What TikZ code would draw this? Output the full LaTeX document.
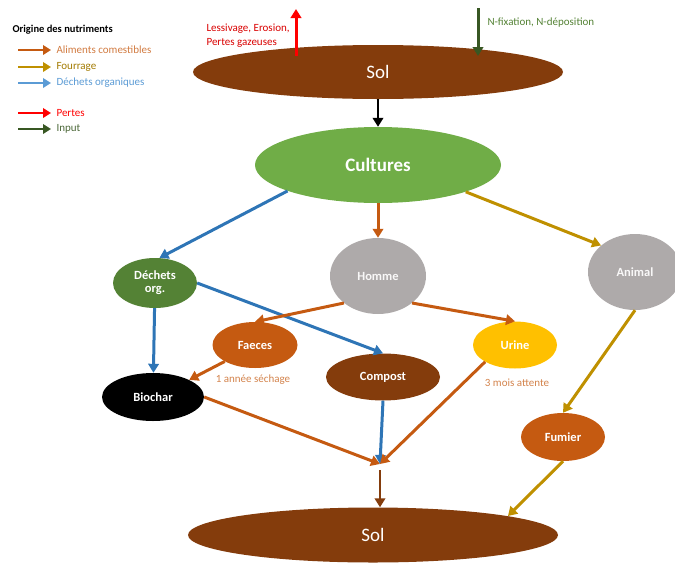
\documentclass[tikz,border=0pt]{standalone}
\usepackage{fontspec}
\setmainfont{Carlito}
\usetikzlibrary{arrows.meta,shapes.geometric}

\definecolor{brun}{HTML}{843C0C}
\definecolor{orangebrun}{HTML}{C55A11}
\definecolor{dore}{HTML}{BF9000}
\definecolor{bleu}{HTML}{2E75B6}
\definecolor{bleuclair}{HTML}{5B9BD5}
\definecolor{vertclair}{HTML}{70AD47}
\definecolor{vertfonce}{HTML}{548235}
\definecolor{vertinput}{HTML}{385723}
\definecolor{gris}{HTML}{AEAAAA}
\definecolor{jaune}{HTML}{FFC000}
\definecolor{rouge}{HTML}{FF0000}

\begin{document}
\begin{tikzpicture}[x=1pt,y=-1pt,
    bulle/.style={ellipse,inner sep=0pt,align=center,text=white,
      font=\bfseries\fontsize{12.5}{13}\selectfont},
    fleche/.style={line width=3pt,-{Triangle[length=9pt,width=10.5pt]}},
    legende/.style={anchor=west,font=\fontsize{11}{14}\selectfont}]
    \useasboundingbox (0,0) rectangle (675,563);

    % legende
    \node[anchor=west,font=\bfseries\fontsize{10.5}{12}\selectfont] (titre) at (9,30) {Origine des nutriments};
    \foreach \y/\c/\tc/\t [count=\i] in {50/orangebrun/orangebrun!80/Aliments comestibles,
        67/dore/dore!85!black/Fourrage, 83/bleuclair/bleuclair/Déchets organiques,
        113/rouge/rouge/Pertes, 129/vertinput/vertinput!90/Input} {
      \coordinate (lg\i a) at (18,\y);
      \coordinate (lg\i b) at (51,\y);
      \draw[fleche,\c,line width=2.8pt,-{Triangle[length=8pt,width=9.5pt]}] (lg\i a) -- (lg\i b);
      \node[legende,text=\tc] (lgt\i) at (53,\y) {\t};
    }

    % ellipses
    \node[bulle,fill=brun,minimum width=370pt,minimum height=54pt,
      font=\fontsize{19}{20}\selectfont] (solhaut) at (378,72) {Sol};
    \node[bulle,fill=vertclair,minimum width=246pt,minimum height=76pt,
      font=\bfseries\fontsize{19}{20}\selectfont] (cultures) at (378,165) {Cultures};
    \node[bulle,fill=vertfonce,minimum width=84pt,minimum height=50pt] (dechets) at (155,283) {Déchets\\org.};
    \node[bulle,fill=gris,minimum width=96pt,minimum height=76pt,text=white!92!gris] (homme) at (378,276) {Homme};
    \node[bulle,fill=gris,minimum width=94pt,minimum height=76pt,text=white!92!gris] (animal) at (635,272) {Animal};
    \node[bulle,fill=orangebrun,minimum width=85pt,minimum height=46pt] (faeces) at (255,345) {Faeces};
    \node[bulle,fill=brun,minimum width=114pt,minimum height=47pt] (compost) at (383,377) {Compost};
    \node[bulle,fill=jaune,minimum width=84pt,minimum height=47pt] (urine) at (515,345) {Urine};
    \node[bulle,fill=black,minimum width=102pt,minimum height=48pt] (biochar) at (153,397) {Biochar};
    \node[bulle,fill=orangebrun,minimum width=84pt,minimum height=48pt] (fumier) at (563,437) {Fumier};
    \node[bulle,fill=brun,minimum width=370pt,minimum height=55pt,
      font=\fontsize{19}{20}\selectfont] (solbas) at (373,535) {Sol};

    % pertes et input
    \coordinate (pertebas) at (296,56);
    \coordinate (pertehaut) at (296,9);
    \coordinate (inputhaut) at (478,8);
    \coordinate (inputbas) at (478,56);
    \draw[fleche,rouge] (pertebas) -- (pertehaut);
    \draw[fleche,vertinput] (inputhaut) -- (inputbas);
    \node[legende,align=left,text=rouge!85!black] (pertelbl) at (203,36) {Lessivage, Erosion,\\Pertes gazeuses};
    \node[legende,text=vertfonce] (inputlbl) at (484,23) {N-fixation, N-déposition};

    % flux
    \draw[fleche,black,line width=2.2pt] (cultures.north |- solhaut.south) -- (cultures.north);
    \draw[fleche,bleu] (cultures.196) -- (dechets.80);
    \draw[fleche,orangebrun] (cultures) -- (homme);
    \draw[fleche,dore] (cultures.-17) -- (animal.142);
    \draw[fleche,bleu] (dechets) -- (biochar);
    \draw[fleche,bleu] (dechets.east) -- (compost.north);
    \draw[fleche,orangebrun] (homme.south west) -- (faeces.north);
    \draw[fleche,orangebrun] (homme.south east) -- (urine.north);
    \draw[fleche,orangebrun] (faeces.south west) -- (biochar.north east);
    \node[font=\fontsize{11}{13}\selectfont,text=orangebrun!75] (sechage) at (253,380) {1 année séchage};
    \node[font=\fontsize{11}{13}\selectfont,text=orangebrun!75] (attente) at (517,383) {3 mois attente};

    \coordinate (jonction) at (380,464);
    \coordinate (jbas) at (380,470);
    \draw[fleche,orangebrun] (biochar.east) -- (jonction);
    \draw[fleche,bleu] (compost.south) -- (jonction);
    \draw[fleche,orangebrun] (urine.south west) -- (jonction);
    \draw[fleche,brun,line width=2.4pt] (jbas) -- (jbas |- solbas.north);
    \draw[fleche,dore] (animal.south) -- (fumier.north);
    \draw[fleche,dore] (fumier.south) -- (solbas.8);
\end{tikzpicture}
\end{document}
